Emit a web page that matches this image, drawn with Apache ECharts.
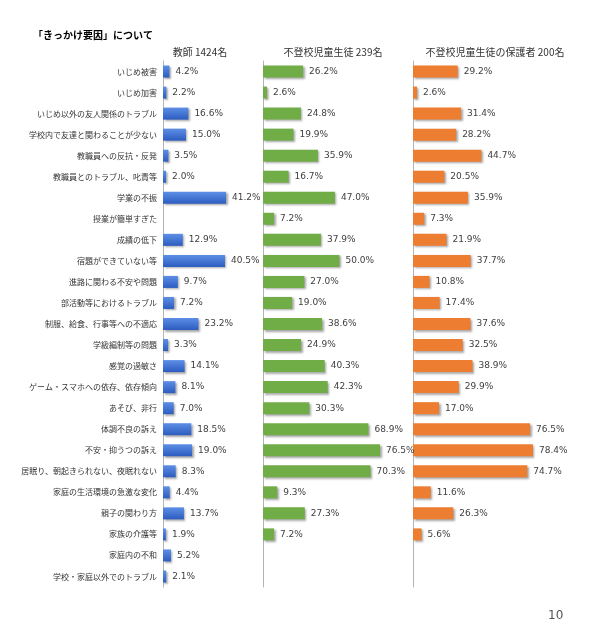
<!DOCTYPE html>
<html><head><meta charset="utf-8">
<script src="https://cdn.jsdelivr.net/npm/echarts@6/dist/echarts.min.js"></script>
<style>html,body{margin:0;padding:0;background:#fff}#c{width:600px;height:633px}</style>
</head><body><div id="c"></div>
<script>
const categories = ["いじめ被害","いじめ加害","いじめ以外の友人関係のトラブル","学校内で友達と関わることが少ない","教職員への反抗・反発","教職員とのトラブル、叱責等","学業の不振","授業が簡単すぎた","成績の低下","宿題ができていない等","進路に関わる不安や問題","部活動等におけるトラブル","制服、給食、行事等への不適応","学級編制等の問題","感覚の過敏さ","ゲーム・スマホへの依存、依存傾向","あそび、非行","体調不良の訴え","不安・抑うつの訴え","居眠り、朝起きられない、夜眠れない","家庭の生活環境の急激な変化","親子の関わり方","家族の介護等","家庭内の不和","学校・家庭以外でのトラブル"];
const teacher = [4.2,2.2,16.6,15.0,3.5,2.0,41.2,null,12.9,40.5,9.7,7.2,23.2,3.3,14.1,8.1,7.0,18.5,19.0,8.3,4.4,13.7,1.9,5.2,2.1];
const student = [26.2,2.6,24.8,19.9,35.9,16.7,47.0,7.2,37.9,50.0,27.0,19.0,38.6,24.9,40.3,42.3,30.3,68.9,76.5,70.3,9.3,27.3,7.2,null,null];
const parent = [29.2,2.6,31.4,28.2,44.7,20.5,35.9,7.3,21.9,37.7,10.8,17.4,37.6,32.5,38.9,29.9,17.0,76.5,78.4,74.7,11.6,26.3,5.6,null,null];
const groupTitles = ["教師 1424名","不登校児童生徒 239名","不登校児童生徒の保護者 200名"];
const pageTitle = "「きっかけ要因」について";
const pageNumber = "10";

const chart = echarts.init(document.getElementById('c'), null, {renderer:'canvas'});
const lefts = [163, 263, 413];
const W = 153;
const colors = [
  new echarts.graphic.LinearGradient(0,0,0,1,[{offset:0,color:'#5d8fe6'},{offset:1,color:'#2c5cc0'}]),
  '#70ad47',
  '#ed7d31'
];
const datas = [teacher, student, parent];
const grids = lefts.map(l => ({left:l, top:61, width:W, height:526}));
const xAxes = lefts.map((l,i) => ({gridIndex:i, type:'value', min:0, max:100, show:false}));
const yAxes = lefts.map((l,i) => ({
  gridIndex:i, type:'category', data:categories, inverse:true,
  axisLine:{show:true, lineStyle:{color:'#b4b4b4', width:1}},
  axisTick:{show:false},
  axisLabel:{show:i===0, margin:6, fontSize:8, color:'#333', fontFamily:'Noto Sans CJK JP'}
}));
const series = datas.map((d,i) => ({
  type:'bar', xAxisIndex:i, yAxisIndex:i, data:d, barWidth:12,
  itemStyle:{color:colors[i], shadowColor:'rgba(0,0,0,0.35)', shadowOffsetX:1.5, shadowOffsetY:1.5, shadowBlur:2},
  label:{show:true, position:'right', distance:6, fontSize:9, color:'#404040', fontFamily:'DejaVu Sans',
    formatter:p => (p.value==null ? '' : p.value.toFixed(1)+'%')},
  silent:true, animation:false
}));
const titleCenters = [195, 328, 490];
chart.setOption({
  animation:false,
  grid:grids, xAxis:xAxes, yAxis:yAxes, series:series,
  title:[
    {text:pageTitle, left:28, top:25, textStyle:{fontSize:10, fontWeight:'bold', color:'#000', fontFamily:'Noto Sans CJK JP'}},
    ...groupTitles.map((t,i)=>({text:t, left:titleCenters[i], top:42, textAlign:'center', textStyle:{fontSize:10, fontWeight:'normal', color:'#333', fontFamily:'Noto Sans CJK JP'}})),
    {text:pageNumber, left:543, top:605, textStyle:{fontSize:12, fontWeight:'normal', color:'#555', fontFamily:'DejaVu Sans'}}
  ]
});
</script></body></html>
